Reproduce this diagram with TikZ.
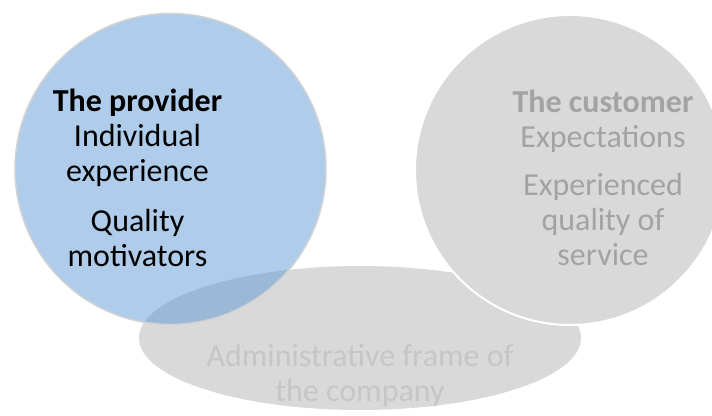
\documentclass[tikz,border=0pt]{standalone}
\usepackage{fontspec}
\setmainfont{Carlito}
\begin{document}
\begin{tikzpicture}[x=1pt,y=1pt,
  set/.style={font=\fontsize{32}{35}\selectfont, align=center, anchor=base, inner sep=0pt}]
\definecolor{shadegray}{HTML}{D9D9D9}
\definecolor{providerblue}{RGB}{95,153,213}
\definecolor{ringgray}{HTML}{D3D3D3}
\definecolor{customertext}{HTML}{A3A3A3}
\definecolor{frametext}{HTML}{C6C6C6}
\useasboundingbox (0,0) rectangle (712,415);
\clip (0,0) rectangle (712,415);

% administrative frame (bottom ellipse)
\fill[shadegray] (360,77) ellipse [x radius=221, y radius=72];

% customer circle, drawn over the ellipse with a white rim
\filldraw[fill=shadegray, draw=white, line width=2pt] (570,245) circle [radius=155];

% provider circle, translucent so the overlap shows darker
\filldraw[fill=providerblue, fill opacity=0.5, draw=ringgray, line width=1.5pt]
  (170.5,246) circle [radius=155.5];

% base anchor of a multi-line node sits on its last line
\node[set] (provider) at (137.5,148)
  {\textbf{The provider}\\Individual\\experience\\[15pt]Quality\\motivators};
\node[set, text=customertext] (customer) at (603,149)
  {\textbf{The customer}\\Expectations\\[13pt]Experienced\\quality of\\service};
\node[set, text=frametext] (frame) at (360,13)
  {Administrative frame of\\the company};
\end{tikzpicture}
\end{document}
